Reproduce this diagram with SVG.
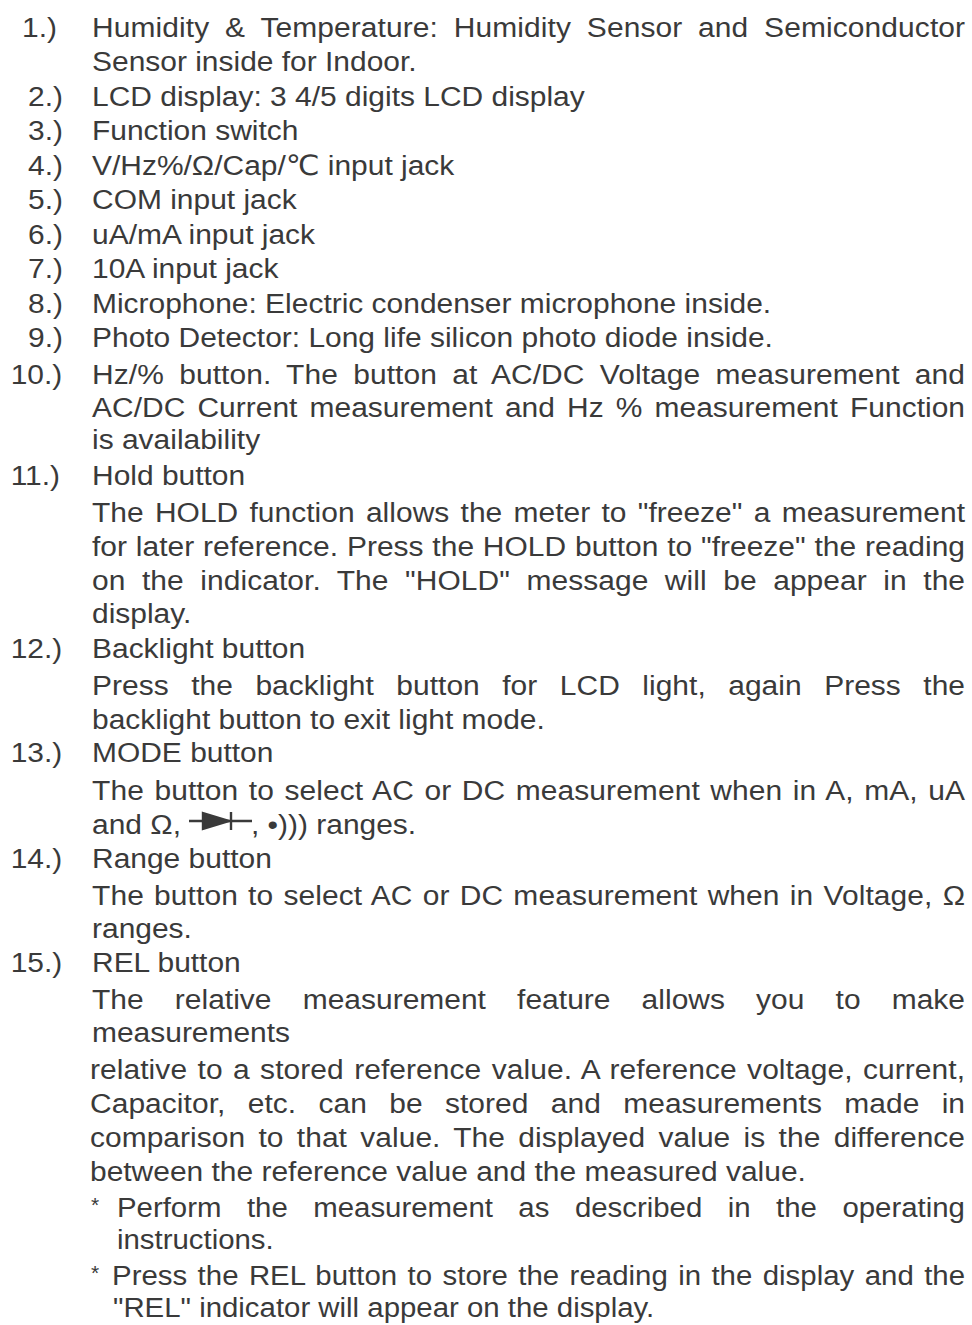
<svg xmlns="http://www.w3.org/2000/svg" width="972" height="1325" viewBox="0 0 972 1325">
<style>
text{font-family:"Liberation Sans",Arial,"DejaVu Sans","Noto Sans CJK SC",sans-serif;font-size:28px;fill:#3a3a3a}
.star{font-size:20px}
.sym{stroke:#3a3a3a;stroke-width:2.4;fill:#3a3a3a}
</style>
<rect width="972" height="1325" fill="#ffffff"/>
<g id="main" transform="scale(1.07,1)">
<g id="item1">
<text x="20.6" y="37">1.)</text>
<text x="86" y="37" word-spacing="6.9" textLength="815.9" lengthAdjust="spacing">Humidity &amp; Temperature: Humidity Sensor and Semiconductor</text>
<text x="86" y="71">Sensor inside for Indoor.</text>
</g>
<g id="item2"><text x="26.2" y="106">2.)</text><text x="86" y="106">LCD display: 3 4/5 digits LCD display</text></g>
<g id="item3"><text x="26.2" y="140">3.)</text><text x="86" y="140">Function switch</text></g>
<g id="item4"><text x="26.2" y="175">4.)</text><text x="86" y="175">V/Hz%/Ω/Cap/℃ input jack</text></g>
<g id="item5"><text x="26.2" y="209">5.)</text><text x="86" y="209">COM input jack</text></g>
<g id="item6"><text x="26.2" y="244">6.)</text><text x="86" y="244">uA/mA input jack</text></g>
<g id="item7"><text x="26.2" y="278">7.)</text><text x="86" y="278">10A input jack</text></g>
<g id="item8"><text x="26.2" y="313">8.)</text><text x="86" y="313">Microphone: Electric condenser microphone inside.</text></g>
<g id="item9"><text x="26.2" y="347">9.)</text><text x="86" y="347">Photo Detector: Long life silicon photo diode inside.</text></g>
<g id="item10">
<text x="10" y="384">10.)</text>
<text x="86" y="384" word-spacing="6.34" textLength="815.9" lengthAdjust="spacing">Hz/% button. The button at AC/DC Voltage measurement and</text>
<text x="86" y="417" word-spacing="3.49" textLength="815.9" lengthAdjust="spacing">AC/DC Current measurement and Hz % measurement Function</text>
<text x="86" y="449">is availability</text>
</g>
<g id="item11">
<text x="10" y="485">11.)</text>
<text x="86" y="485">Hold button</text>
<text x="86" y="522" word-spacing="2.74" textLength="815.9" lengthAdjust="spacing">The HOLD function allows the meter to "freeze" a measurement</text>
<text x="86" y="556" word-spacing="0.43" textLength="815.9" lengthAdjust="spacing">for later reference. Press the HOLD button to "freeze" the reading</text>
<text x="86" y="590" word-spacing="7.6" textLength="815.9" lengthAdjust="spacing">on the indicator. The "HOLD" message will be appear in the</text>
<text x="86" y="623">display.</text>
</g>
<g id="item12">
<text x="10" y="658">12.)</text>
<text x="86" y="658">Backlight button</text>
<text x="86" y="695" word-spacing="13.25" textLength="815.9" lengthAdjust="spacing">Press the backlight button for LCD light, again Press the</text>
<text x="86" y="729">backlight button to exit light mode.</text>
</g>
<g id="item13">
<text x="10" y="762">13.)</text>
<text x="86" y="762">MODE button</text>
<text x="86" y="800" word-spacing="2.0" textLength="815.9" lengthAdjust="spacing">The button to select AC or DC measurement when in A, mA, uA</text>
<text x="86" y="834">and Ω,</text>
<text x="234.5" y="834">, •))) ranges.</text>
</g>
<g id="item14">
<text x="10" y="868">14.)</text>
<text x="86" y="868">Range button</text>
<text x="86" y="905" word-spacing="1.67" textLength="815.9" lengthAdjust="spacing">The button to select AC or DC measurement when in Voltage, Ω</text>
<text x="86" y="938">ranges.</text>
</g>
<g id="item15a">
<text x="10" y="972">15.)</text>
<text x="86" y="972">REL button</text>
<text x="86" y="1009" word-spacing="21.3" textLength="815.9" lengthAdjust="spacing">The relative measurement feature allows you to make</text>
<text x="86" y="1042">measurements</text>
<text x="84.1" y="1079" word-spacing="1.85" textLength="817.8" lengthAdjust="spacing">relative to a stored reference value. A reference voltage, current,</text>
<text x="84.1" y="1113" word-spacing="13.0" textLength="817.8" lengthAdjust="spacing">Capacitor, etc. can be stored and measurements made in</text>
<text x="84.1" y="1147" word-spacing="4.63" textLength="817.8" lengthAdjust="spacing">comparison to that value. The displayed value is the difference</text>
<text x="84.1" y="1181">between the reference value and the measured value.</text>
</g>
</g>
<g id="diode">
<line class="sym" x1="189" y1="821" x2="252" y2="821"/>
<polygon class="sym" points="203,813 203,829 229,821"/>
<line class="sym" x1="231" y1="812" x2="231" y2="830"/>
</g>
<g id="item15b" transform="scale(1.05,1)">
<text class="star" x="86.7" y="1212">*</text>
<text x="111.4" y="1217" word-spacing="16.5" textLength="807.6" lengthAdjust="spacing">Perform the measurement as described in the operating</text>
<text x="111.4" y="1249">instructions.</text>
<text class="star" x="86.7" y="1280">*</text>
<text x="106.7" y="1285" word-spacing="2.07" textLength="812.4" lengthAdjust="spacing">Press the REL button to store the reading in the display and the</text>
<text x="107.6" y="1317">"REL" indicator will appear on the display.</text>
</g>
</svg>
